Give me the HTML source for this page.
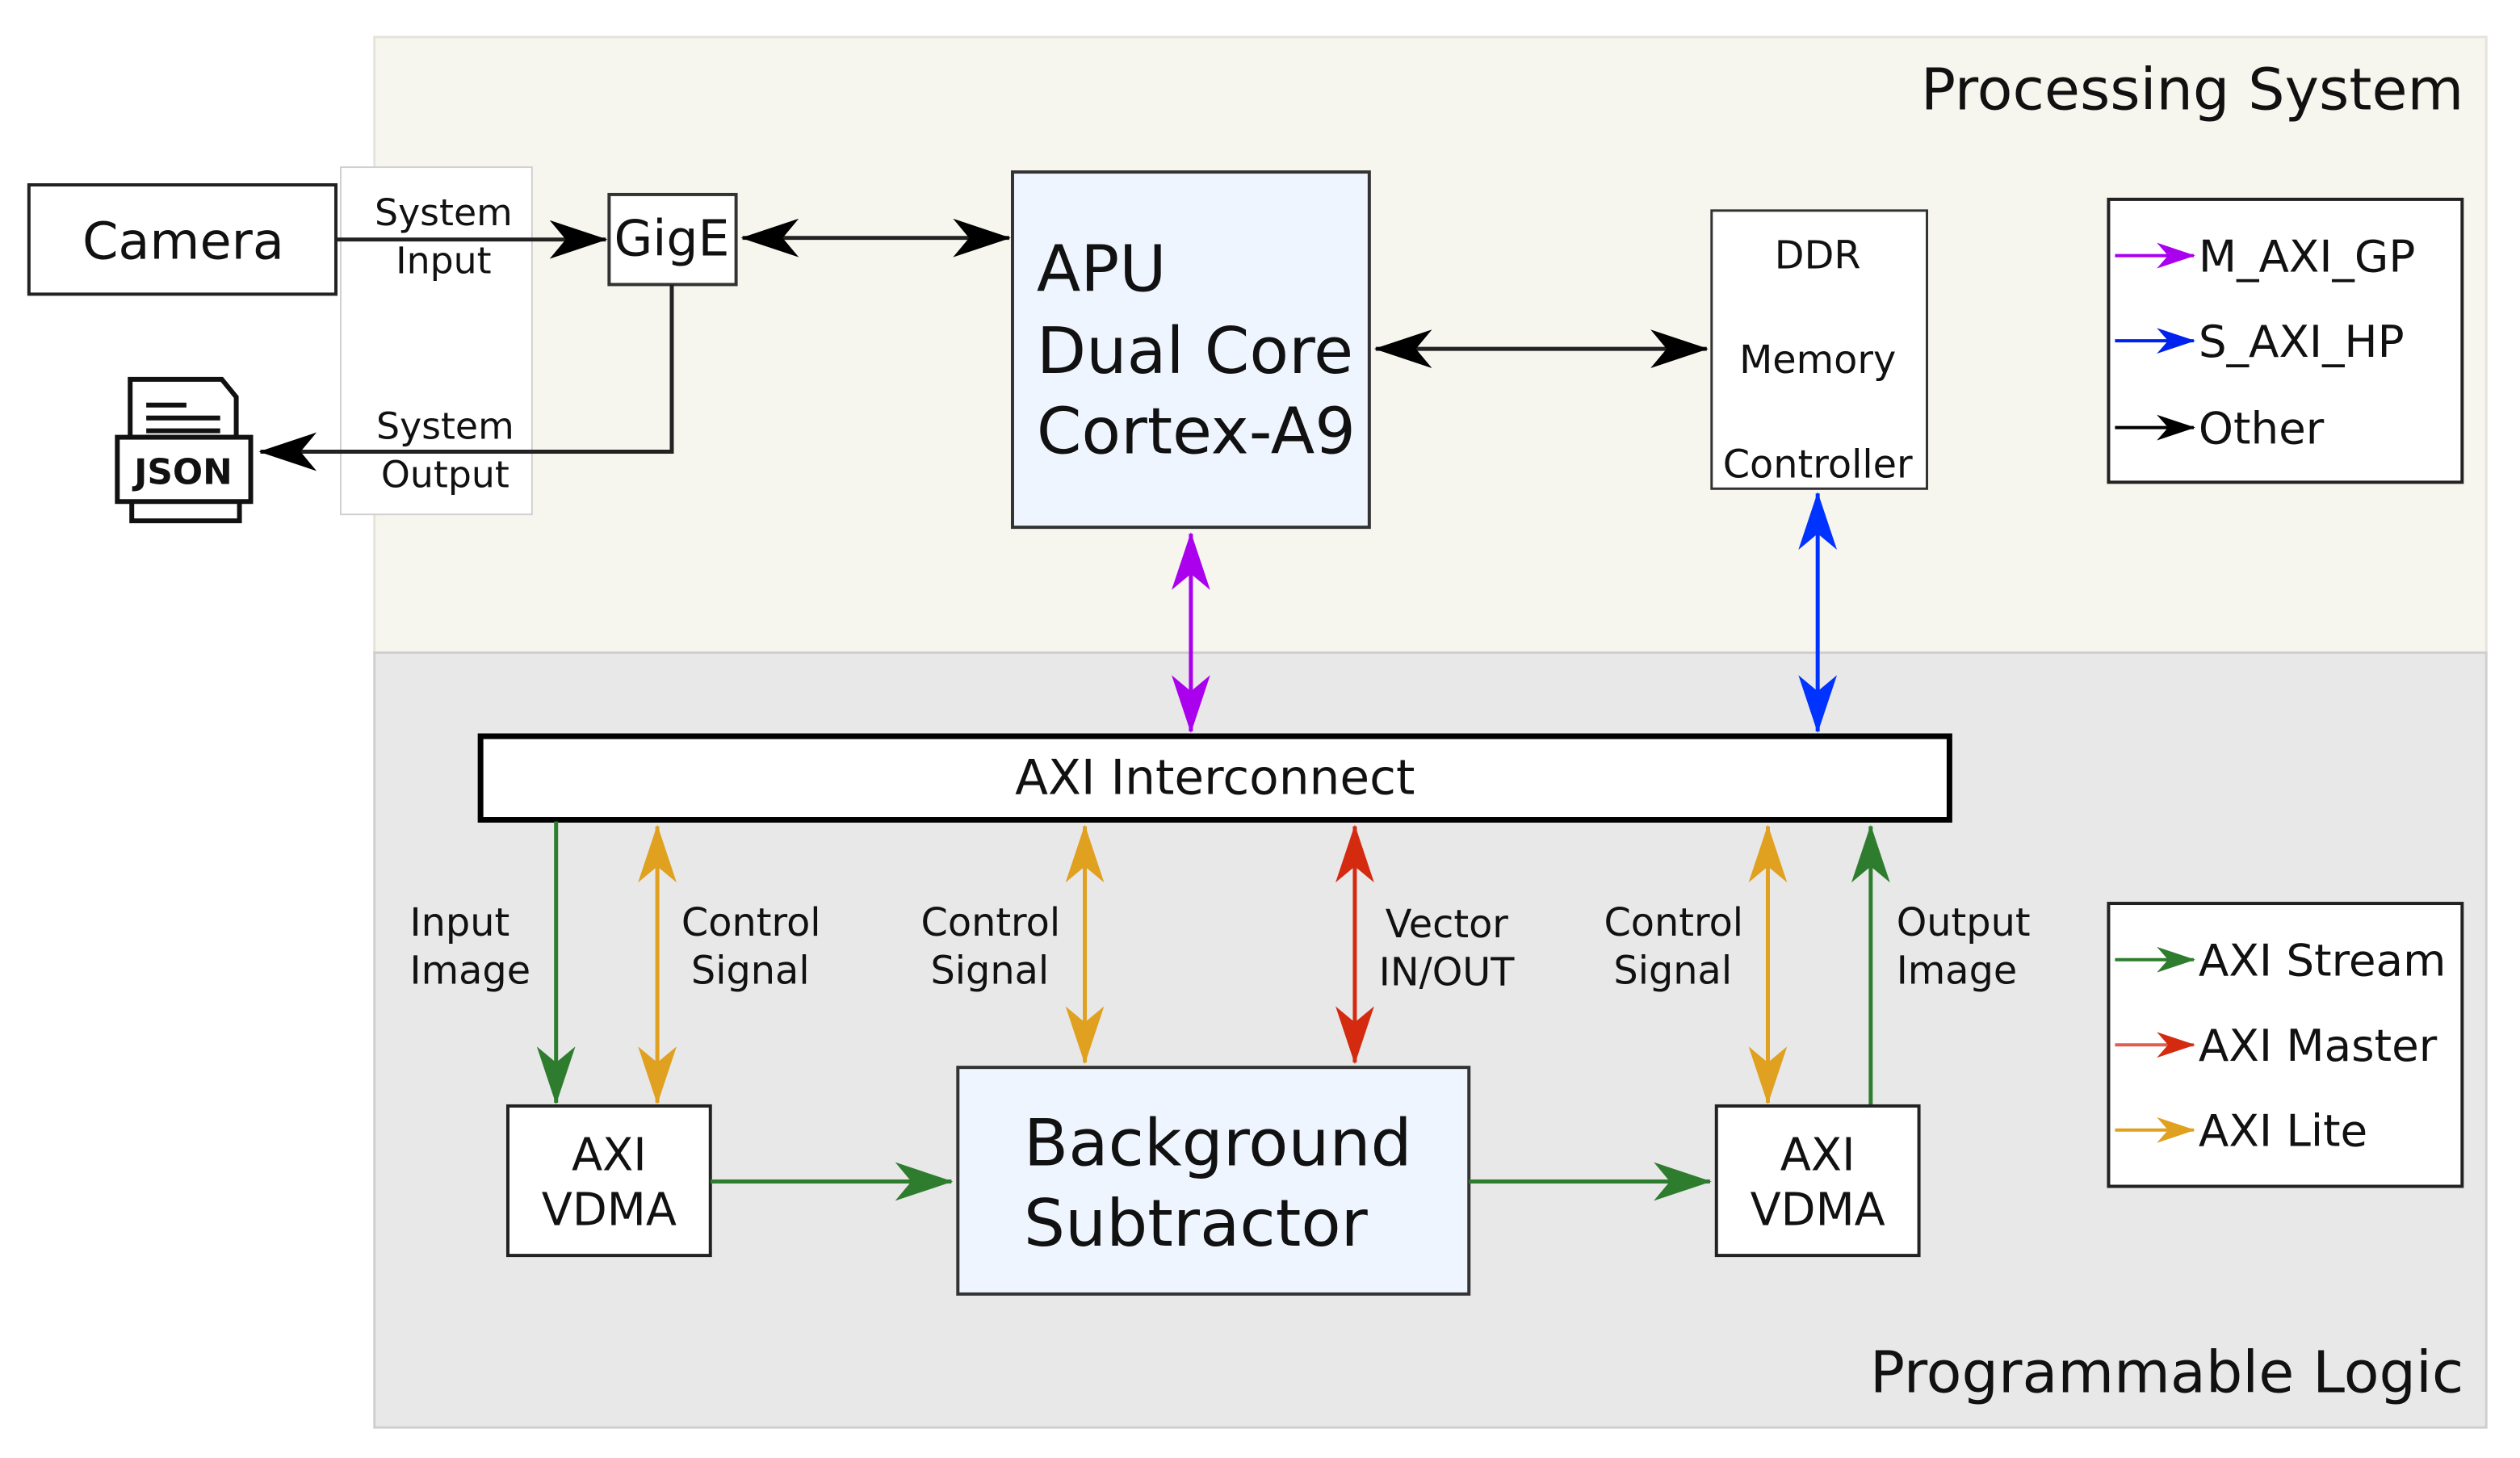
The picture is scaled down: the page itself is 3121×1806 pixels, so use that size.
<!DOCTYPE html>
<html><head><meta charset="utf-8"><style>
html,body{margin:0;padding:0;background:#fff;}
svg{display:block;}
text{font-family:"DejaVu Sans","Liberation Sans",sans-serif;fill:#111;}
</style></head><body>
<svg width="3121" height="1806" viewBox="0 0 1568 907" preserveAspectRatio="none" xmlns="http://www.w3.org/2000/svg">
<defs>
<marker id="mk" markerUnits="userSpaceOnUse" markerWidth="36" markerHeight="24" viewBox="0 0 36 24" refX="35" refY="12" orient="auto-start-reverse"><path d="M0,0 L36,12 L0,24 L10,12 z" fill="#000"/></marker>
<marker id="mp" markerUnits="userSpaceOnUse" markerWidth="36" markerHeight="24" viewBox="0 0 36 24" refX="35" refY="12" orient="auto-start-reverse"><path d="M0,0 L36,12 L0,24 L10,12 z" fill="#aa00ee"/></marker>
<marker id="mb" markerUnits="userSpaceOnUse" markerWidth="36" markerHeight="24" viewBox="0 0 36 24" refX="35" refY="12" orient="auto-start-reverse"><path d="M0,0 L36,12 L0,24 L10,12 z" fill="#0033ff"/></marker>
<marker id="mg" markerUnits="userSpaceOnUse" markerWidth="36" markerHeight="24" viewBox="0 0 36 24" refX="35" refY="12" orient="auto-start-reverse"><path d="M0,0 L36,12 L0,24 L10,12 z" fill="#2e7d2e"/></marker>
<marker id="mo" markerUnits="userSpaceOnUse" markerWidth="36" markerHeight="24" viewBox="0 0 36 24" refX="35" refY="12" orient="auto-start-reverse"><path d="M0,0 L36,12 L0,24 L10,12 z" fill="#e0a020"/></marker>
<marker id="mr" markerUnits="userSpaceOnUse" markerWidth="36" markerHeight="24" viewBox="0 0 36 24" refX="35" refY="12" orient="auto-start-reverse"><path d="M0,0 L36,12 L0,24 L10,12 z" fill="#d42a10"/></marker>
<marker id="sk" markerUnits="userSpaceOnUse" markerWidth="24" markerHeight="16" viewBox="0 0 24 16" refX="23" refY="8" orient="auto"><path d="M0,0 L24,8 L0,16 L7,8 z" fill="#000"/></marker>
<marker id="sp" markerUnits="userSpaceOnUse" markerWidth="24" markerHeight="16" viewBox="0 0 24 16" refX="23" refY="8" orient="auto"><path d="M0,0 L24,8 L0,16 L7,8 z" fill="#aa00ee"/></marker>
<marker id="sb" markerUnits="userSpaceOnUse" markerWidth="24" markerHeight="16" viewBox="0 0 24 16" refX="23" refY="8" orient="auto"><path d="M0,0 L24,8 L0,16 L7,8 z" fill="#0022ee"/></marker>
<marker id="sg" markerUnits="userSpaceOnUse" markerWidth="24" markerHeight="16" viewBox="0 0 24 16" refX="23" refY="8" orient="auto"><path d="M0,0 L24,8 L0,16 L7,8 z" fill="#2e7d2e"/></marker>
<marker id="sr" markerUnits="userSpaceOnUse" markerWidth="24" markerHeight="16" viewBox="0 0 24 16" refX="23" refY="8" orient="auto"><path d="M0,0 L24,8 L0,16 L7,8 z" fill="#d42a10"/></marker>
<marker id="so" markerUnits="userSpaceOnUse" markerWidth="24" markerHeight="16" viewBox="0 0 24 16" refX="23" refY="8" orient="auto"><path d="M0,0 L24,8 L0,16 L7,8 z" fill="#e0a020"/></marker>
</defs>

<rect x="233" y="23" width="1314" height="383" fill="#f6f6ee" stroke="#e4e4dc" stroke-width="1.5"/>
<rect x="233" y="406" width="1314" height="482" fill="#e8e8e8" stroke="#cfcfcf" stroke-width="1.5"/>
<rect x="212" y="104" width="119" height="216" fill="#fff" stroke="#d0d0d0" stroke-width="1"/>
<text x="1533" y="68" font-size="36" text-anchor="end">Processing System</text>
<text x="1533" y="866" font-size="36" text-anchor="end">Programmable Logic</text>

<rect x="18" y="115" width="191" height="68" fill="#fff" stroke="#222" stroke-width="2"/>
<text x="114" y="161" font-size="32" text-anchor="middle">Camera</text>
<line x1="209" y1="149" x2="377" y2="149" stroke="#222" stroke-width="2.5" marker-end="url(#mk)"/>
<text x="276" y="140" font-size="23" text-anchor="middle">System</text>
<text x="276" y="170" font-size="23" text-anchor="middle">Input</text>

<rect x="379" y="121" width="79" height="56" fill="#fff" stroke="#333" stroke-width="2"/>
<text x="418" y="159" font-size="31" text-anchor="middle">GigE</text>
<polyline points="418,177 418,281 162,281" fill="none" stroke="#222" stroke-width="2.5" marker-end="url(#mk)"/>
<text x="277" y="273" font-size="23" text-anchor="middle">System</text>
<text x="277" y="303" font-size="23" text-anchor="middle">Output</text>

<rect x="68" y="228" width="92" height="102" fill="#fff"/>
<rect x="82" y="304" width="67" height="20" fill="#fff" stroke="#111" stroke-width="3"/>
<path d="M81,236 L138,236 L147,247 L147,272 L81,272 z" fill="#fff" stroke="#111" stroke-width="3"/>
<line x1="91" y1="252" x2="116" y2="252" stroke="#111" stroke-width="3"/>
<line x1="91" y1="260" x2="137" y2="260" stroke="#111" stroke-width="3"/>
<line x1="91" y1="268" x2="137" y2="268" stroke="#111" stroke-width="3"/>
<rect x="73" y="272" width="83" height="40" fill="#fff" stroke="#111" stroke-width="3"/>
<text x="114" y="301" font-size="22" font-weight="bold" text-anchor="middle" font-family="Liberation Sans, sans-serif">JSON</text>

<line x1="462" y1="148" x2="628" y2="148" stroke="#222" stroke-width="2.5" marker-start="url(#mk)" marker-end="url(#mk)"/>

<rect x="630" y="107" width="222" height="221" fill="#eef5ff" stroke="#333" stroke-width="2"/>
<text x="645" y="181" font-size="40">APU</text>
<text x="645" y="232" font-size="40">Dual Core</text>
<text x="645" y="282" font-size="40">Cortex-A9</text>

<line x1="856" y1="217" x2="1062" y2="217" stroke="#222" stroke-width="2.5" marker-start="url(#mk)" marker-end="url(#mk)"/>

<rect x="1065" y="131" width="134" height="173" fill="#fff" stroke="#333" stroke-width="1.5"/>
<text x="1131" y="167" font-size="24" text-anchor="middle">DDR</text>
<text x="1131" y="232" font-size="24" text-anchor="middle">Memory</text>
<text x="1131" y="297" font-size="24" text-anchor="middle">Controller</text>

<rect x="1312" y="124" width="220" height="176" fill="#fff" stroke="#222" stroke-width="2"/>
<line x1="1316" y1="159" x2="1365" y2="159" stroke="#aa00ee" stroke-width="2" marker-end="url(#sp)"/>
<line x1="1316" y1="212" x2="1365" y2="212" stroke="#0022ee" stroke-width="2" marker-end="url(#sb)"/>
<line x1="1316" y1="266" x2="1365" y2="266" stroke="#000" stroke-width="2" marker-end="url(#sk)"/>
<text x="1368" y="169" font-size="27.5">M_AXI_GP</text>
<text x="1368" y="222" font-size="27.5">S_AXI_HP</text>
<text x="1368" y="276" font-size="27.5">Other</text>

<line x1="741" y1="332" x2="741" y2="455" stroke="#aa00ee" stroke-width="2.5" marker-start="url(#mp)" marker-end="url(#mp)"/>
<line x1="1131" y1="307" x2="1131" y2="455" stroke="#0033ff" stroke-width="2.5" marker-start="url(#mb)" marker-end="url(#mb)"/>

<rect x="299" y="458" width="914" height="52" fill="#fff" stroke="#000" stroke-width="3.5"/>
<text x="756" y="494" font-size="30" text-anchor="middle">AXI Interconnect</text>

<line x1="346" y1="511" x2="346" y2="686" stroke="#2e7d2e" stroke-width="2.5" marker-end="url(#mg)"/>
<line x1="409" y1="514" x2="409" y2="686" stroke="#e0a020" stroke-width="2.5" marker-start="url(#mo)" marker-end="url(#mo)"/>
<line x1="675" y1="514" x2="675" y2="661" stroke="#e0a020" stroke-width="2.5" marker-start="url(#mo)" marker-end="url(#mo)"/>
<line x1="843" y1="514" x2="843" y2="661" stroke="#d42a10" stroke-width="2.5" marker-start="url(#mr)" marker-end="url(#mr)"/>
<line x1="1100" y1="514" x2="1100" y2="686" stroke="#e0a020" stroke-width="2.5" marker-start="url(#mo)" marker-end="url(#mo)"/>
<line x1="1164" y1="687" x2="1164" y2="514" stroke="#2e7d2e" stroke-width="2.5" marker-end="url(#mg)"/>

<g font-size="24">
<text x="255" y="582">Input</text><text x="255" y="612">Image</text>
<text x="424" y="582">Control</text><text x="430" y="612">Signal</text>
<text x="573" y="582">Control</text><text x="579" y="612">Signal</text>
<text x="862" y="583">Vector</text><text x="858" y="613">IN/OUT</text>
<text x="998" y="582">Control</text><text x="1004" y="612">Signal</text>
<text x="1180" y="582">Output</text><text x="1180" y="612">Image</text>
</g>

<rect x="316" y="688" width="126" height="93" fill="#fff" stroke="#222" stroke-width="2"/>
<text x="379" y="728" font-size="28" text-anchor="middle">AXI</text>
<text x="379" y="762" font-size="28" text-anchor="middle">VDMA</text>
<rect x="1068" y="688" width="126" height="93" fill="#fff" stroke="#222" stroke-width="2"/>
<text x="1131" y="728" font-size="28" text-anchor="middle">AXI</text>
<text x="1131" y="762" font-size="28" text-anchor="middle">VDMA</text>

<rect x="596" y="664" width="318" height="141" fill="#eef5ff" stroke="#333" stroke-width="2"/>
<text x="637" y="725" font-size="40.5">Background</text>
<text x="637" y="775" font-size="40.5">Subtractor</text>

<line x1="442" y1="735" x2="592" y2="735" stroke="#2e7d2e" stroke-width="2.5" marker-end="url(#mg)"/>
<line x1="914" y1="735" x2="1064" y2="735" stroke="#2e7d2e" stroke-width="2.5" marker-end="url(#mg)"/>

<rect x="1312" y="562" width="220" height="176" fill="#fff" stroke="#222" stroke-width="2"/>
<line x1="1316" y1="597" x2="1365" y2="597" stroke="#2e7d2e" stroke-width="2" marker-end="url(#sg)"/>
<line x1="1316" y1="650" x2="1365" y2="650" stroke="#e06050" stroke-width="2" marker-end="url(#sr)"/>
<line x1="1316" y1="703" x2="1365" y2="703" stroke="#e0a020" stroke-width="2" marker-end="url(#so)"/>
<text x="1368" y="607" font-size="27.5">AXI Stream</text>
<text x="1368" y="660" font-size="27.5">AXI Master</text>
<text x="1368" y="713" font-size="27.5">AXI Lite</text>
</svg>
</body></html>
